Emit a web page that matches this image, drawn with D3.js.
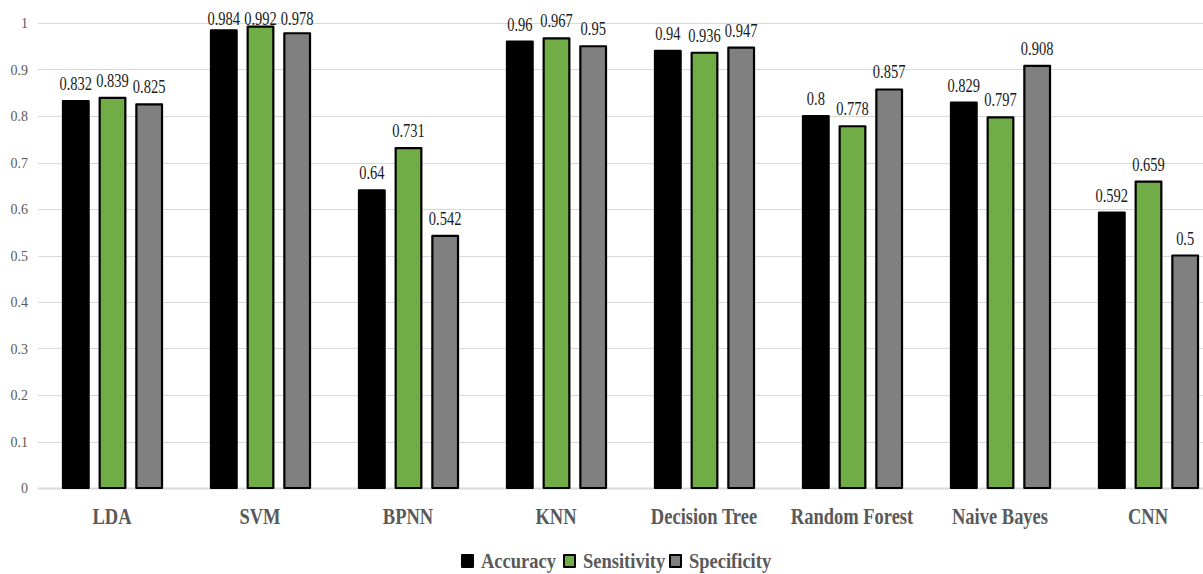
<!DOCTYPE html>
<html>
<head>
<meta charset="utf-8">
<script src="https://cdn.jsdelivr.net/npm/d3@7"></script>
<style>
  html, body { margin: 0; padding: 0; background: #fff; overflow: hidden; }
  svg { display: block; }
</style>
</head>
<body>
<svg id="chart" width="1203" height="574"></svg>
<script>
// Classifier comparison: accuracy, sensitivity and specificity per model
const categories = ["LDA", "SVM", "BPNN", "KNN", "Decision Tree", "Random Forest", "Naive Bayes", "CNN"];
const seriesNames = ["Accuracy", "Sensitivity", "Specificity"];
const accuracy    = [0.832, 0.984, 0.64, 0.96, 0.94, 0.8, 0.829, 0.592];
const sensitivity = [0.839, 0.992, 0.731, 0.967, 0.936, 0.778, 0.797, 0.659];
const specificity = [0.825, 0.978, 0.542, 0.95, 0.947, 0.857, 0.908, 0.5];
const yTicks = [0, 0.1, 0.2, 0.3, 0.4, 0.5, 0.6, 0.7, 0.8, 0.9, 1];
const colors = ["#000000", "#70AD47", "#808080"];

const seriesValues = [accuracy, sensitivity, specificity];
const rows = categories.map((c, i) => ({
  category: c,
  values: seriesNames.map((s, k) => ({ series: s, value: seriesValues[k][i], k }))
}));

const svg = d3.select("#chart");
const serif = "'Liberation Serif', 'Times New Roman', serif";
const stretch = 1.24;

const x0 = d3.scaleBand().domain(categories).range([38, 1222])
  .paddingInner(0.324).paddingOuter(0.162);
const x1 = d3.scaleBand().domain(seriesNames).range([1, x0.bandwidth()]).paddingInner(0.3);
const y = d3.scaleLinear().domain([0, 1]).range([488, 23]);

// Horizontal gridlines
svg.append("g").selectAll("line").data(yTicks).join("line")
  .attr("x1", 38).attr("x2", 1203)
  .attr("y1", d => Math.round(y(d)) + 0.5).attr("y2", d => Math.round(y(d)) + 0.5)
  .attr("stroke", "#d9d9d9").attr("stroke-width", d => d === 0 ? 2 : 1);

// Y-axis tick labels (each tick group is already placed at its value)
const yAxis = d3.axisLeft(y).tickValues(yTicks).tickSize(0).tickPadding(0)
  .tickFormat(d => d3.format("~g")(d));
const ga = svg.append("g").attr("transform", "translate(28,0)").call(yAxis);
ga.select(".domain").remove();
ga.selectAll("text")
  .attr("font-family", serif).attr("font-size", 14).attr("fill", "#595959")
  .attr("dy", null).attr("x", 0).attr("y", 0)
  .attr("text-anchor", "end")
  .attr("transform", "translate(0,4.8) scale(1,1.08)");

// Bars
const groups = svg.append("g").selectAll("g").data(rows).join("g")
  .attr("transform", d => `translate(${x0(d.category)},0)`);

groups.selectAll("rect").data(d => d.values).join("rect")
  .attr("x", d => x1(d.series))
  .attr("width", x1.bandwidth())
  .attr("y", d => y(d.value))
  .attr("height", d => y(0) - y(d.value))
  .attr("fill", d => colors[d.k])
  .attr("stroke", "#000").attr("stroke-width", 2.2)
  .attr("stroke-linejoin", "round");

// Value labels above bars
groups.selectAll("text").data(d => d.values).join("text")
  .attr("transform", d => {
    const cx = x1(d.series) + x1.bandwidth() / 2;
    const by = Math.max(y(d.value) - 11, 25);
    return `translate(${cx},${by}) scale(1,${stretch})`;
  })
  .attr("text-anchor", "middle")
  .attr("font-family", serif).attr("font-size", 14.5).attr("fill", "#1a1a1a")
  .text(d => d3.format("~g")(d.value));

// Category labels
svg.append("g").selectAll("text").data(categories).join("text")
  .attr("transform", d => `translate(${x0(d) + x0.bandwidth() / 2},524) scale(1,1.28)`)
  .attr("text-anchor", "middle")
  .attr("font-family", serif).attr("font-weight", "bold").attr("font-size", 18.5)
  .attr("fill", "#595959")
  .text(d => d);

// Legend
const legendX = [462, 564, 670];
const lg = svg.append("g").selectAll("g").data(seriesNames).join("g")
  .attr("transform", (d, i) => `translate(${legendX[i]},555)`);
lg.append("rect")
  .attr("x", 0).attr("y", 0).attr("width", 11).attr("height", 12)
  .attr("fill", (d, i) => colors[i]).attr("stroke", "#000").attr("stroke-width", 2)
  .attr("stroke-linejoin", "round");
lg.append("text")
  .attr("transform", "translate(19,12.5) scale(1,1.18)")
  .attr("font-family", serif).attr("font-weight", "bold").attr("font-size", 18.5)
  .attr("fill", "#595959")
  .text(d => d);
</script>
</body>
</html>
